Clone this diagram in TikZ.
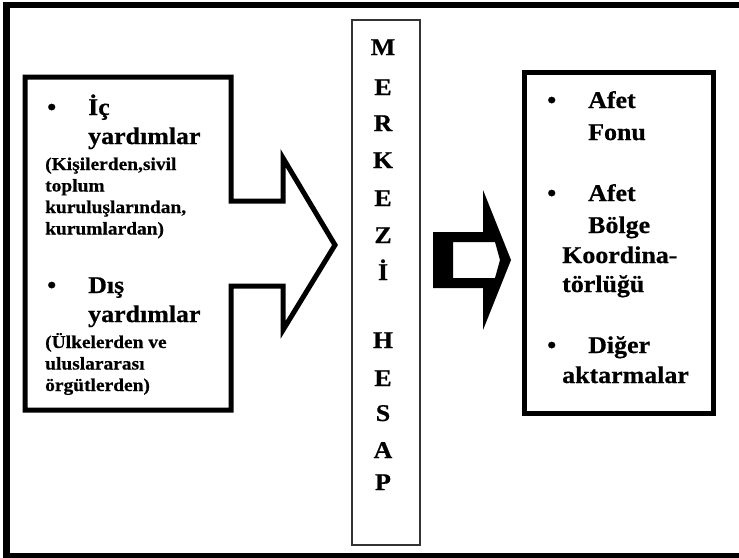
\documentclass[tikz,border=0pt]{standalone}
\usepackage{fontspec}
\setmainfont{Liberation Serif}[FakeStretch=1.08, BoldFeatures={FakeBold=0.6}]
\usetikzlibrary{positioning}
\tikzstyle{big} = [anchor=base west, inner sep=0pt, font=\fontsize{24}{29}\selectfont\bfseries]
\tikzstyle{small} = [anchor=base west, inner sep=0pt, font=\fontsize{18}{21}\selectfont\bfseries]
\tikzstyle{letter} = [anchor=base, inner sep=0pt, font=\fontsize{24}{29}\selectfont\bfseries]
\tikzstyle{heavy} = [draw, line width=5pt, line join=miter]
\tikzstyle{hesapbox} = [rectangle, draw=black!80, line width=1.2pt,
    minimum width=68pt, minimum height=525pt, inner sep=0pt]
\tikzstyle{outbox} = [rectangle, heavy, minimum width=189pt, minimum height=341pt, inner sep=0pt]

\begin{document}
\begin{tikzpicture}[x=1pt, y=-1pt]
    \useasboundingbox (0,0) rectangle (739,557);
    \begin{scope}
        \clip (0,0) rectangle (739,557);
        \draw [line width=6.5pt] (6.5,5) rectangle (780,556);
    \end{scope}

    % yardimlar (giris oku)
    \draw [heavy] (25,77) -- (231,77) -- (231,201) -- (283,201) -- (283,158)
        -- (335,245) -- (283,330) -- (283,286) -- (231,286) -- (231,410)
        -- (25,410) -- cycle;

    \node [big] (bul1) at (47,115) {\textbullet};
    \node [big] (ic) at (88,115) {İç};
    \node [big] (icyard) at (88,144) {yardımlar};
    \node [small] (ic1) at (45,170) {(Kişilerden,sivil};
    \node [small] (ic2) at (45,191.5) {toplum};
    \node [small] (ic3) at (45,213) {kuruluşlarından,};
    \node [small] (ic4) at (45,234.5) {kurumlardan)};

    \node [big] (bul2) at (47,293) {\textbullet};
    \node [big] (dis) at (88,293) {Dış};
    \node [big] (disyard) at (88,322) {yardımlar};
    \node [small] (dis1) at (45,348) {(Ülkelerden ve};
    \node [small] (dis2) at (45,369.5) {uluslararası};
    \node [small] (dis3) at (45,391) {örgütlerden)};

    % merkezi hesap
    \node [hesapbox] (hesap) at (386,282.5) {};
    \foreach \l/\y [count=\i] in {M/55,E/95,R/131,K/168,E/206,Z/243,İ/280,
        H/348,E/386,S/421,A/458,P/490}
        \node [letter] (harf\i) at (383,\y) {\l};

    % cikis oku
    \fill [even odd rule] (433,232) -- (483,232) -- (483,190) -- (511,260)
        -- (483,330) -- (483,288) -- (433,288) -- cycle
        (453,242) -- (495,242) -- (500,260) -- (495,278) -- (453,278) -- cycle;

    % aktarmalar
    \node [outbox] (aktarim) at (618.5,242.5) {};
    \node [big] (bul3) at (547,108) {\textbullet};
    \node [big] (afet1) at (588,108) {Afet};
    \node [big] (fonu) at (588,140) {Fonu};
    \node [big] (bul4) at (547,201) {\textbullet};
    \node [big] (afet2) at (588,201) {Afet};
    \node [big] (bolge) at (588,233) {Bölge};
    \node [big] (koord) at (562,263) {Koordina-};
    \node [big] (torl) at (562,292) {törlüğü};
    \node [big] (bul5) at (547,353) {\textbullet};
    \node [big] (diger) at (588,353) {Diğer};
    \node [big] (aktar) at (562,383) {aktarmalar};
\end{tikzpicture}
\end{document}
